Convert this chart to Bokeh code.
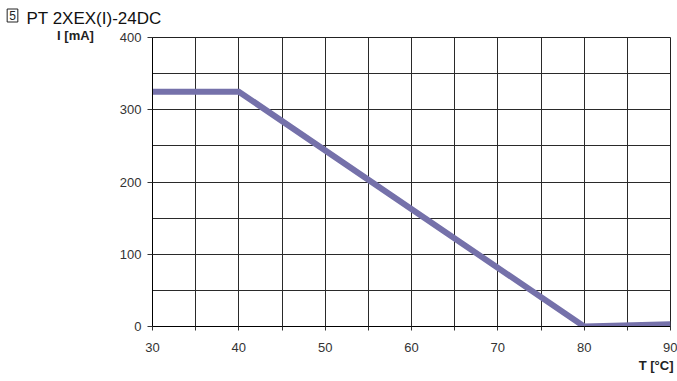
from bokeh.plotting import figure
from bokeh.models import FixedTicker, Label
from bokeh.embed import file_html
from bokeh.resources import INLINE

# data
temp_c = [30, 40, 80, 90]
current_ma = [325, 325, 0, 3]
x_ticks = [30, 35, 40, 45, 50, 55, 60, 65, 70, 75, 80, 85, 90]
x_labels = {35: "", 45: "", 55: "", 65: "", 75: "", 85: ""}
y_ticks = [0, 100, 200, 300, 400]
y_grid = [0, 50, 100, 150, 200, 250, 300, 350, 400]
title_num = "5"
title_text = "PT 2XEX(I)-24DC"
y_title = "I [mA]"
x_title = "T [°C]"

W, H = 677, 381
L, R, T, B = 152, 7, 37, 55
X0, X1, Y0, Y1 = 30, 90, 0, 400
p = figure(width=W, height=H, output_backend="svg", toolbar_location=None,
           x_range=(X0, X1), y_range=(Y0, Y1),
           min_border_left=L, min_border_right=R, min_border_top=T, min_border_bottom=B)
p.background_fill_color = "white"
p.border_fill_color = "white"
p.outline_line_color = "#222222"
p.outline_line_width = 1

p.xaxis.ticker = FixedTicker(ticks=x_ticks)
p.xaxis.major_label_overrides = x_labels
p.yaxis.ticker = FixedTicker(ticks=y_ticks)
p.xgrid.ticker = FixedTicker(ticks=x_ticks)
p.ygrid.ticker = FixedTicker(ticks=y_grid)
for g in (p.xgrid, p.ygrid):
    g.grid_line_color = "#2a2a2a"
    g.grid_line_width = 1
    g.grid_line_alpha = 1

for ax in (p.xaxis, p.yaxis):
    ax.axis_line_color = "black"
    ax.axis_line_width = 1
    ax.major_tick_line_color = "#333333"
    ax.minor_tick_line_color = None
    ax.major_tick_in = 0
    ax.major_label_text_font = "Liberation Sans"
    ax.major_label_text_font_size = "13px"
    ax.major_label_text_color = "#333333"
p.xaxis.major_tick_out = 4
p.xaxis.major_label_standoff = 12
p.yaxis.major_tick_out = 5
p.yaxis.major_label_standoff = 6

p.line(temp_c, current_ma, line_color="#7571aa", line_width=6, line_join="miter", line_cap="butt")

# pixel -> data helpers for placing annotation texts
pw, ph = W - L - R, H - T - B
def dx(px):
    return X0 + (px - L) * (X1 - X0) / pw
def dy(py):
    return Y1 - (py - T) * (Y1 - Y0) / ph

# texts placed in side panels (not clipped to the frame), positioned in data units
p.add_layout(Label(x=dx(26), y=dy(17.5), text=title_text,
                   text_font="Liberation Sans", text_font_size="17px", text_color="#111111",
                   text_align="left", text_baseline="alphabetic"), "above")
p.add_layout(Label(x=dx(12), y=dy(15), text=title_num,
                   text_font="Liberation Sans", text_font_size="12px", text_color="#222222",
                   text_align="center", text_baseline="middle",
                   border_line_color="#222222", border_line_width=1, padding=2), "left")
p.add_layout(Label(x=dx(75), y=dy(35), text=y_title,
                   text_font="Liberation Sans", text_font_size="13px", text_font_style="bold",
                   text_color="#222222", text_align="center", text_baseline="middle"), "left")
p.add_layout(Label(x=dx(673), y=dy(365), text=x_title,
                   text_font="Liberation Sans", text_font_size="13px", text_font_style="bold",
                   text_color="#222222", text_align="right", text_baseline="middle"), "below")

open("out.html", "w").write(file_html(p, INLINE))
